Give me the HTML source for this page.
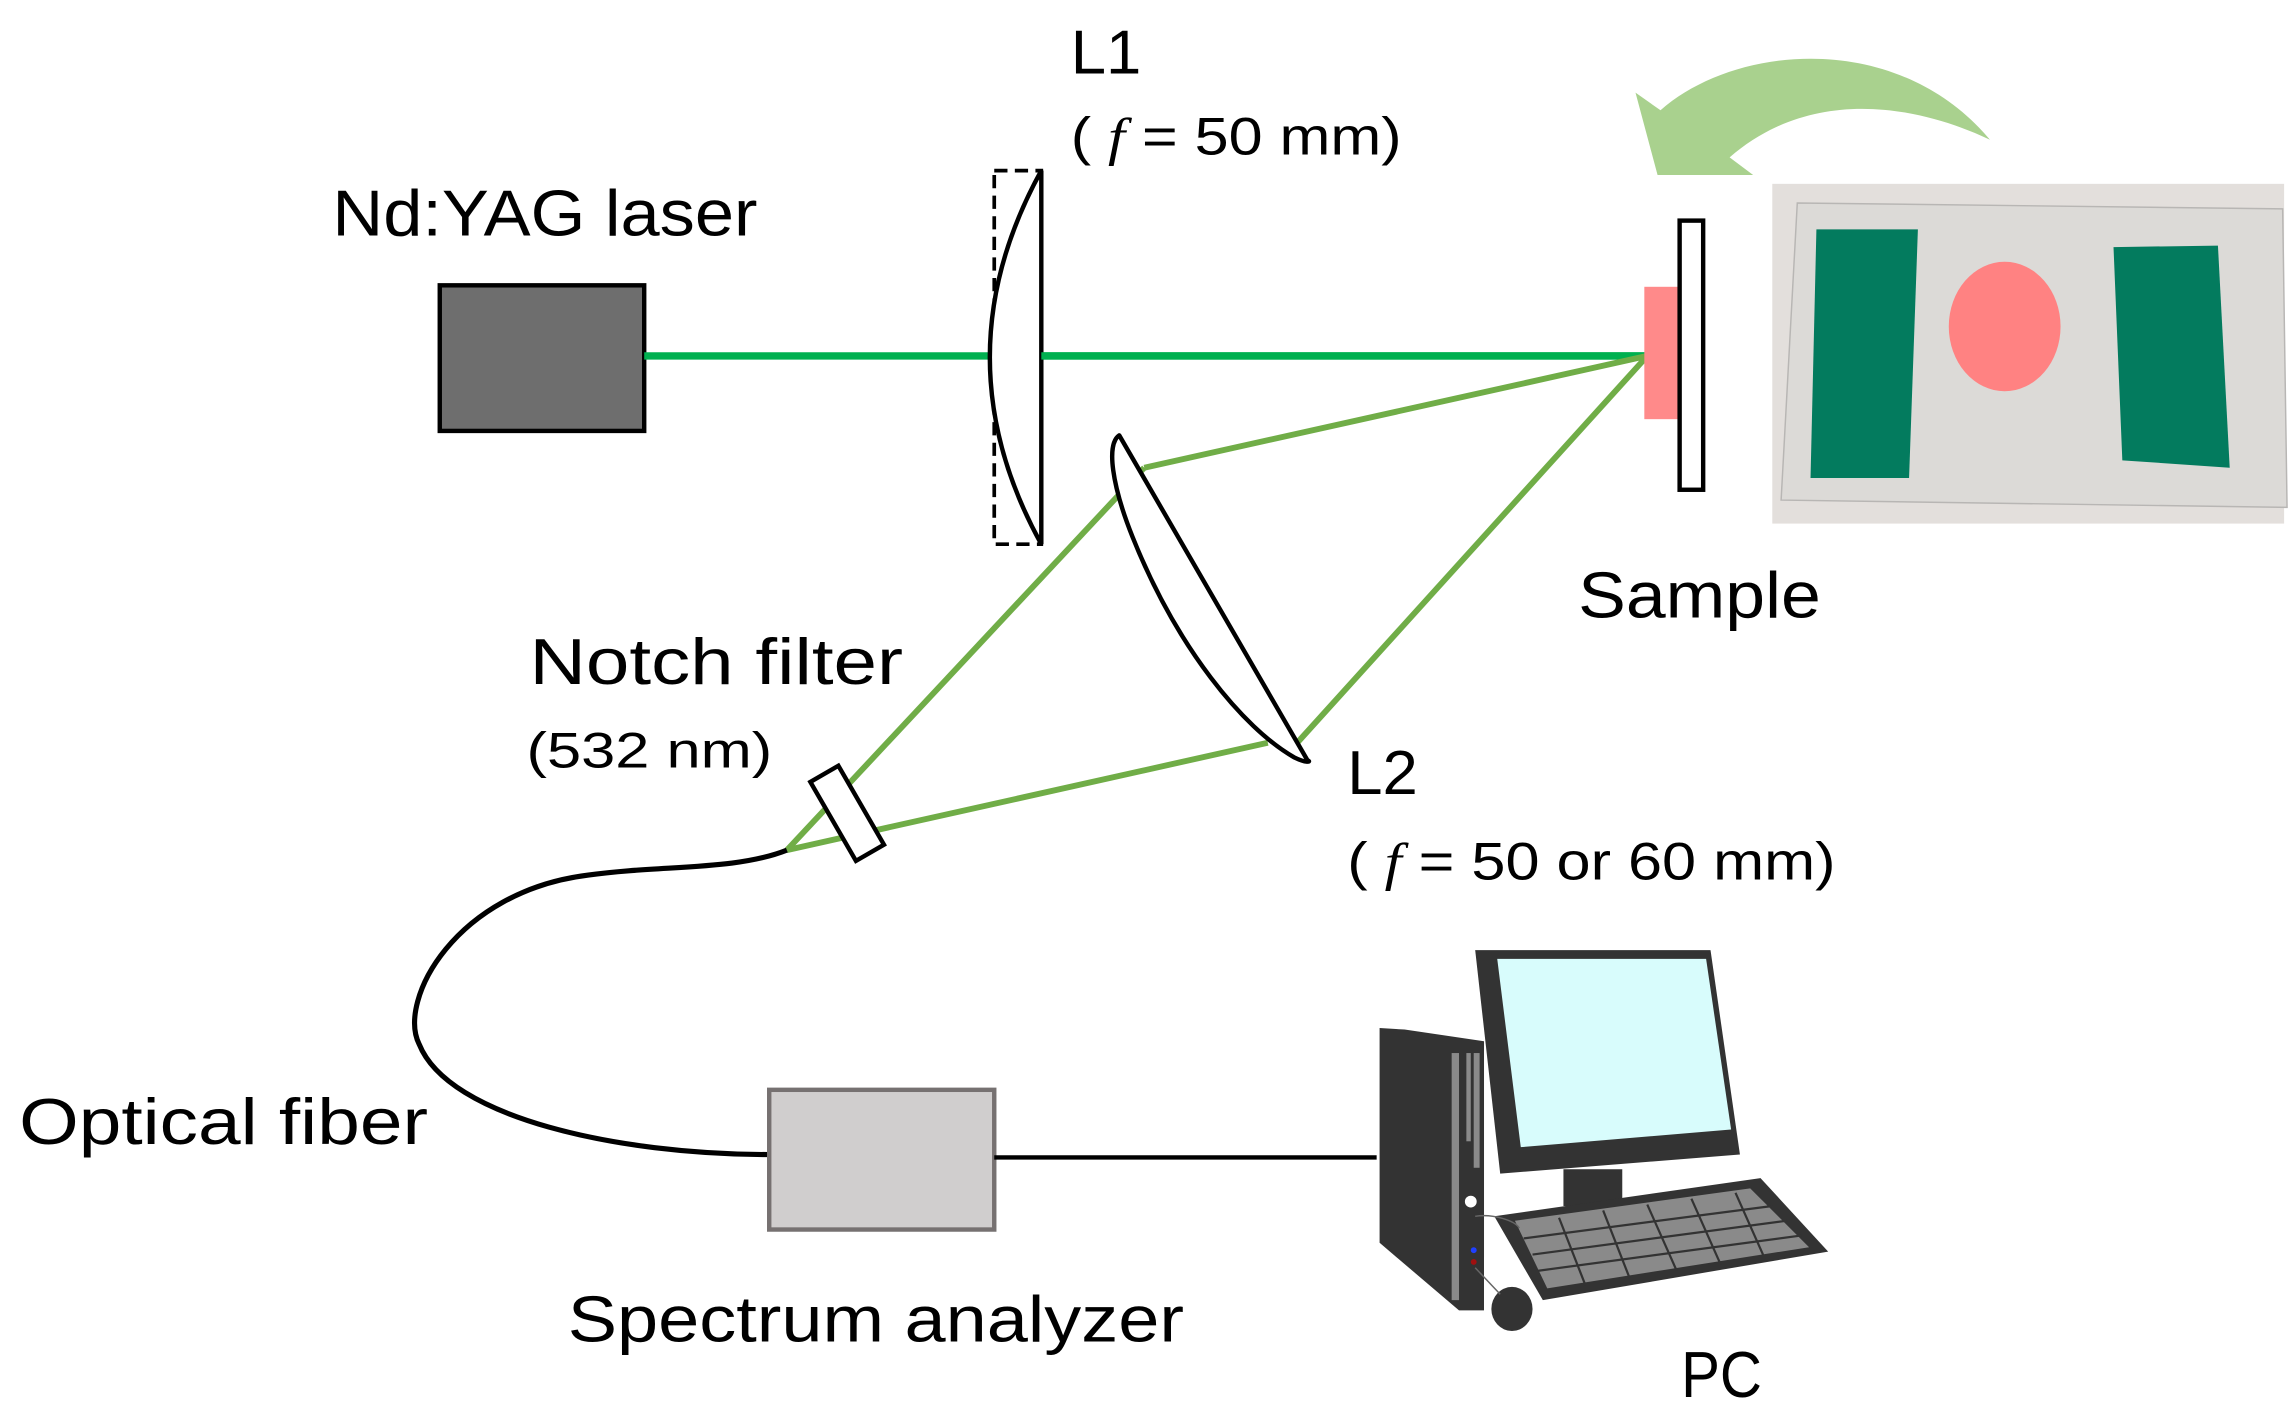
<!DOCTYPE html>
<html><head><meta charset="utf-8"><style>html,body{margin:0;padding:0;background:#fff}svg{display:block}</style></head><body>
<svg width="2290" height="1410" viewBox="0 0 1557 958.7" preserveAspectRatio="none" xmlns="http://www.w3.org/2000/svg" font-family="'Liberation Sans', sans-serif">
<rect width="1557" height="959" fill="#fff"/>
<!-- laser -->
<rect x="299" y="194" width="139" height="99" fill="#6e6e6e" stroke="#000" stroke-width="3"/>
<line x1="438" y1="242" x2="1120" y2="242" stroke="#00b050" stroke-width="5"/>
<!-- L1 -->
<rect x="676" y="116" width="32" height="254" fill="none" stroke="#000" stroke-width="2.5" stroke-dasharray="9,5"/>
<path d="M708,116 Q638,243 708,370 Z" fill="#fff" stroke="#000" stroke-width="3"/>
<line x1="708" y1="242" x2="1120" y2="242" stroke="#00b050" stroke-width="5"/>
<!-- rays -->
<g stroke="#70ad47" stroke-width="4" fill="none">
<line x1="1120" y1="242" x2="778" y2="318"/>
<line x1="1120" y1="242" x2="882" y2="505"/>
<line x1="778" y1="318" x2="535" y2="578"/>
<line x1="862" y1="505" x2="535" y2="578"/>
</g>
<!-- L2 -->
<path d="M761,296 C752,302 756,330 770,365 C800,440 845,495 880,515 C888,519 892,518 889,517 Z" fill="#fff" stroke="#000" stroke-width="3" stroke-linejoin="round"/>
<!-- notch filter -->
<rect x="565" y="522" width="22" height="62" fill="#fff" stroke="#000" stroke-width="3" transform="rotate(-30 576 553)"/>
<!-- fiber -->
<path d="M535,578 C500,592 450,588 400,595 C310,606 270,680 285,710 C305,760 420,785 523,785" fill="none" stroke="#000" stroke-width="3.5"/>
<!-- spectrum analyzer -->
<rect x="523" y="741" width="153" height="95" fill="#d0cece" stroke="#767171" stroke-width="3"/>
<line x1="676" y1="787" x2="936" y2="787" stroke="#000" stroke-width="3"/>
<!-- sample -->
<rect x="1118" y="195" width="25" height="90" fill="#ff8a8a"/>
<rect x="1142" y="150" width="16" height="183" fill="#fff" stroke="#000" stroke-width="3"/>
<!-- photo -->
<rect x="1205" y="125" width="348" height="231" fill="#e3dfdc"/>
<path d="M1222,138 L1552,142 L1555,345 L1211,340 Z" fill="#dcdad7" stroke="#b8b6b4" stroke-width="1"/>
<polygon points="1235,156 1304,156 1298,325 1231,325" fill="#037b5e"/>
<polygon points="1437,168 1508,167 1516,318 1443,313" fill="#037b5e"/>
<ellipse cx="1363" cy="222" rx="38" ry="44" fill="#ff8282"/>
<!-- curved arrow -->
<path d="M1112,63 L1129,75 C1180,30 1290,20 1353,95 C1300,70 1230,60 1176,107 L1192,119 L1127,119 Z" fill="#a9d18e"/>
<!-- PC -->
<polygon points="938,699 955,700 1009,708 1009,891 992,891 938,845" fill="#333"/>
<rect x="987" y="716" width="5" height="168" fill="#8a8a8a"/>
<rect x="997" y="716" width="3" height="60" fill="#8a8a8a"/>
<rect x="1002" y="716" width="4" height="78" fill="#8a8a8a"/>
<circle cx="1000" cy="817" r="4" fill="#fff"/>
<circle cx="1002" cy="850" r="2" fill="#2040ff"/>
<circle cx="1002" cy="858" r="2" fill="#a01010"/>
<polygon points="1003,646 1163,646 1183,785 1020,798" fill="#333"/>
<polygon points="1018,652 1160,652 1177,768 1034,780" fill="#d8fcfc"/>
<rect x="1063" y="795" width="40" height="25" fill="#333"/>
<polygon points="1016,827 1197,801 1243,851 1049,884" fill="#333"/>
<polygon points="1030,830 1190,808 1230,848 1052,876" fill="#8a8a8a"/>
<g stroke="#333" stroke-width="1.5">
<line x1="1036" y1="842" x2="1205" y2="820"/><line x1="1042" y1="853" x2="1215" y2="830"/><line x1="1046" y1="864" x2="1225" y2="840"/>
<line x1="1060" y1="828" x2="1078" y2="874"/><line x1="1090" y1="823" x2="1108" y2="869"/><line x1="1120" y1="819" x2="1140" y2="864"/><line x1="1150" y1="815" x2="1170" y2="860"/><line x1="1180" y1="811" x2="1200" y2="856"/>
</g>
<ellipse cx="1028" cy="890" rx="14" ry="15" fill="#333"/>
<path d="M1003,827 C1015,825 1030,830 1033,835 M1003,862 L1020,880" stroke="#666" stroke-width="1" fill="none"/>
<!-- labels -->
<g fill="#000">
<text x="728" y="50" font-size="42" textLength="48" lengthAdjust="spacingAndGlyphs">L1</text>
<text x="728" y="105" font-size="36" textLength="225" lengthAdjust="spacingAndGlyphs">( <tspan font-style="italic" font-family="'Liberation Serif', serif">f</tspan> = 50 mm)</text>
<text x="226" y="160" font-size="44" textLength="289" lengthAdjust="spacingAndGlyphs">Nd:YAG laser</text>
<text x="1073" y="420" font-size="44" textLength="165" lengthAdjust="spacingAndGlyphs">Sample</text>
<text x="360" y="465" font-size="44" textLength="254" lengthAdjust="spacingAndGlyphs">Notch filter</text>
<text x="358" y="522" font-size="34" textLength="167" lengthAdjust="spacingAndGlyphs">(532 nm)</text>
<text x="916" y="540" font-size="42" textLength="48" lengthAdjust="spacingAndGlyphs">L2</text>
<text x="916" y="598" font-size="36" textLength="332" lengthAdjust="spacingAndGlyphs">( <tspan font-style="italic" font-family="'Liberation Serif', serif">f</tspan> = 50 or 60 mm)</text>
<text x="13" y="778" font-size="44" textLength="278" lengthAdjust="spacingAndGlyphs">Optical fiber</text>
<text x="386" y="912" font-size="44" textLength="419" lengthAdjust="spacingAndGlyphs">Spectrum analyzer</text>
<text x="1143" y="950" font-size="44" textLength="55" lengthAdjust="spacingAndGlyphs">PC</text>
</g>
</svg>
</body></html>
